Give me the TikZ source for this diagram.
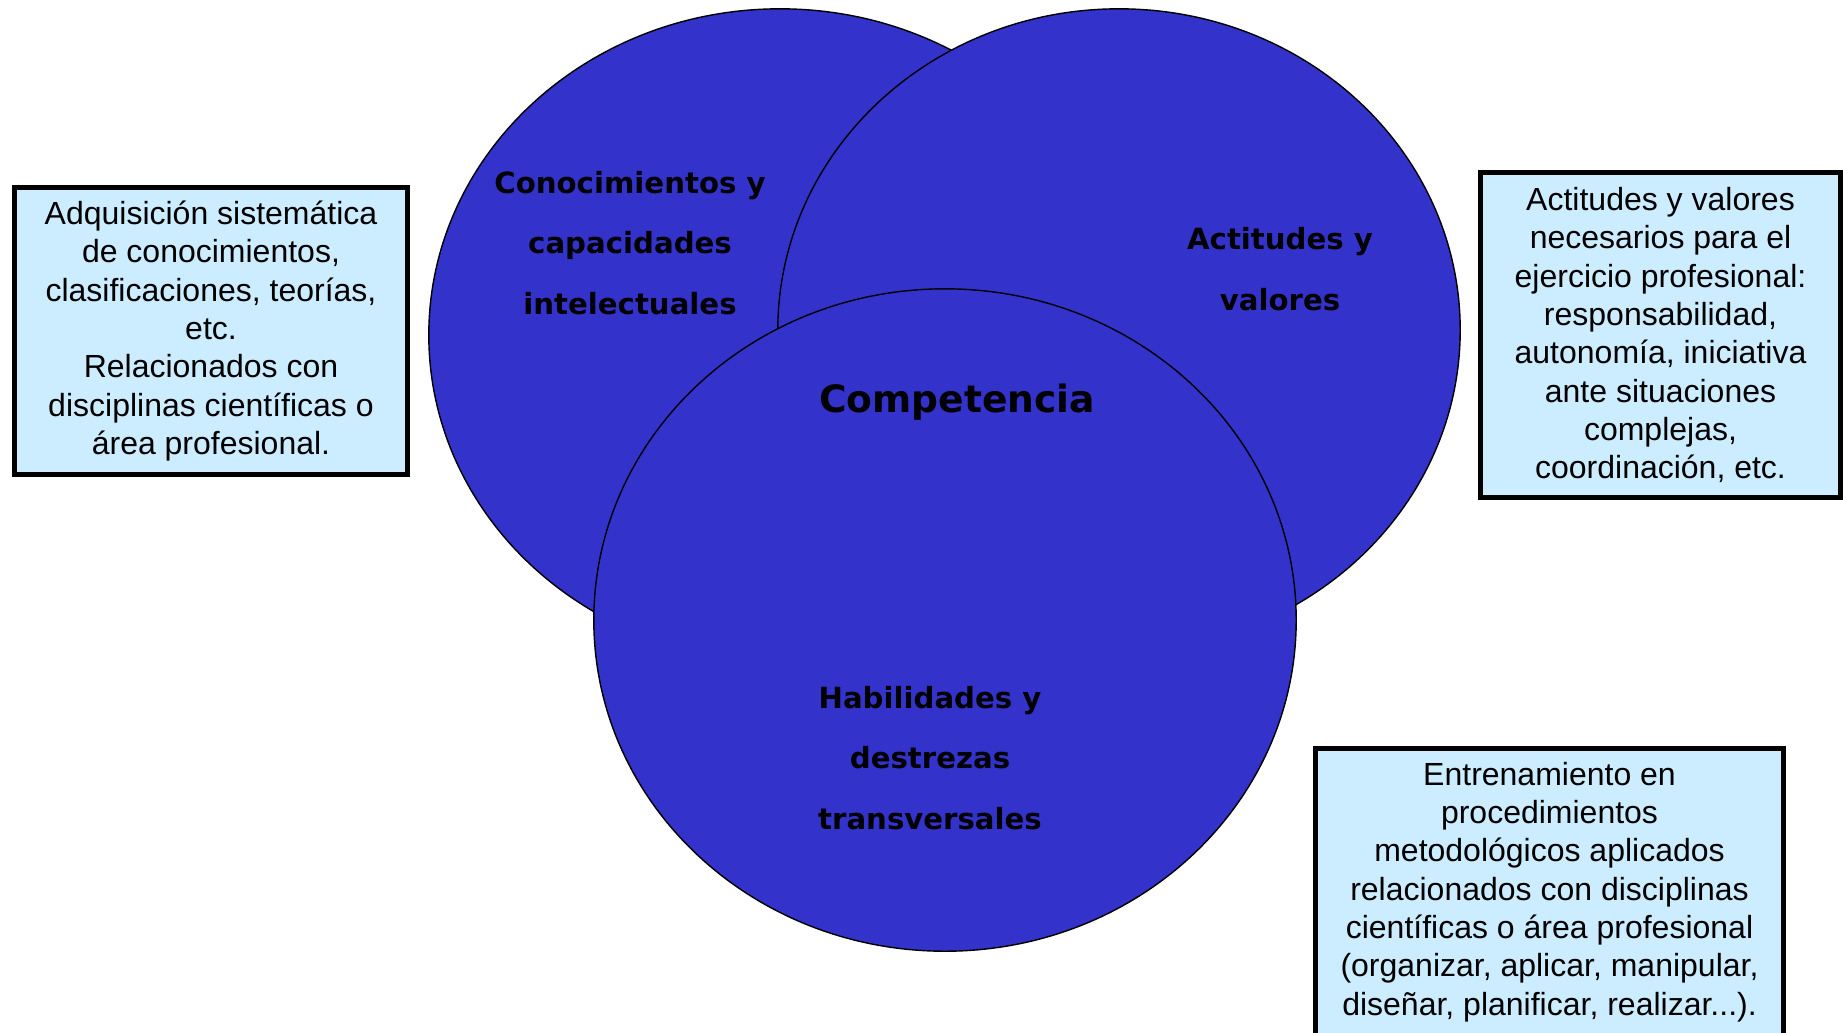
\documentclass[tikz,border=0pt]{standalone}
\usepackage{fontspec}
\setmainfont{Liberation Sans}
\newfontfamily\rotulo{DejaVu Sans}
\definecolor{azulvenn}{HTML}{3333CC}
\definecolor{celeste}{HTML}{CCECFF}

\begin{document}
\begin{tikzpicture}[x=0.01cm, y=-0.01cm,
		zona/.style={draw=black, line width=0.4pt, fill=azulvenn},
		cuadro/.style={draw=black, line width=1.4pt, fill=celeste, inner sep=0pt,
			align=center, font=\fontsize{9.1}{10.9}\selectfont},
		rotulos/.style={align=center, inner sep=0pt,
			font=\rotulo\bfseries\fontsize{8.3}{17.2}\selectfont}]
		\useasboundingbox (0,0) rectangle (1843,1032);
		\coordinate (S) at (780,335);
		\coordinate (A) at (1119,330);
		\coordinate (H) at (945,620);
		\draw[zona] (S) ellipse [x radius=3.51cm, y radius=3.26cm];
		\draw[zona] (A) ellipse [x radius=3.41cm, y radius=3.21cm];
		\draw[zona] (H) ellipse [x radius=3.51cm, y radius=3.31cm];
		\node[rotulos] (saber) at (630,243) {Conocimientos y\\capacidades\\intelectuales};
		\node[rotulos] (actitud) at (1280,269) {Actitudes y\\valores};
		\node[rotulos] (habil) at (930,758) {Habilidades y\\destrezas\\transversales};
		\node[rotulos, font=\rotulo\bfseries\fontsize{10.7}{13}\selectfont] (comp) at (957,402) {Competencia};
		\node[cuadro, minimum width=3.93cm, minimum height=2.87cm] (adq) at (211,331)
		{Adquisición sistemática\\de conocimientos,\\clasificaciones, teorías,\\etc.\\Relacionados con\\disciplinas científicas o\\área profesional.};
		\node[cuadro, minimum width=3.60cm, minimum height=3.25cm] (val) at (1660.5,335)
		{Actitudes y valores\\necesarios para el\\ejercicio profesional:\\responsabilidad,\\autonomía, iniciativa\\ante situaciones\\complejas,\\coordinación, etc.};
		\node[cuadro, minimum width=4.68cm, minimum height=2.87cm] (ent) at (1549.5,892)
		{Entrenamiento en\\procedimientos\\metodológicos aplicados\\relacionados con disciplinas\\científicas o área profesional\\(organizar, aplicar, manipular,\\diseñar, planificar, realizar...).};
\end{tikzpicture}
\end{document}
